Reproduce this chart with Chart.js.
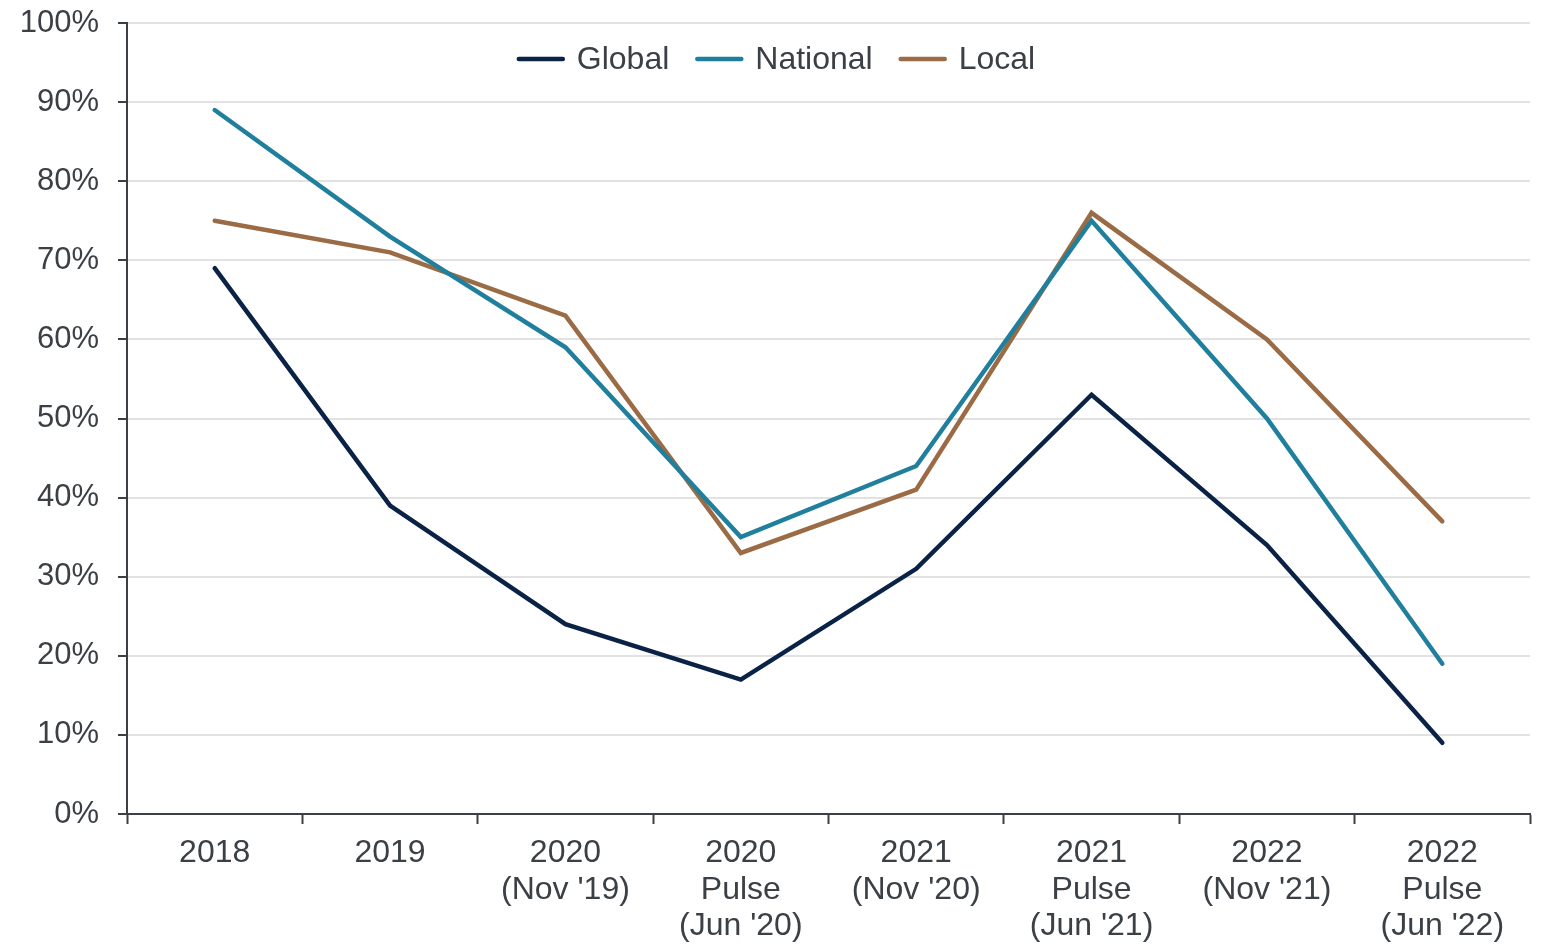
<!DOCTYPE html>
<html>
<head>
<meta charset="utf-8">
<script src="https://cdn.jsdelivr.net/npm/chart.js@4"></script>
<style>
html,body{margin:0;padding:0;background:#fff;}
#wrap{width:1546px;height:945px;position:relative;}
</style>
</head>
<body>
<div id="wrap"><canvas id="c"></canvas></div>
<script>
const categories = [
  ["2018"],
  ["2019"],
  ["2020", "(Nov '19)"],
  ["2020", "Pulse", "(Jun '20)"],
  ["2021", "(Nov '20)"],
  ["2021", "Pulse", "(Jun '21)"],
  ["2022", "(Nov '21)"],
  ["2022", "Pulse", "(Jun '22)"]
];
const globalValues   = [69, 39, 24, 17, 31, 53, 34, 9];
const nationalValues = [89, 73, 59, 35, 44, 75, 50, 19];
const localValues    = [75, 71, 63, 33, 41, 76, 60, 37];
const seriesNames = ["Global", "National", "Local"];
const yTicks = [0, 10, 20, 30, 40, 50, 60, 70, 80, 90, 100];

const colors = ["#0a2246", "#1f7f9c", "#9a6b45"];
const textColor = "#3b4046";
const axisColor = "#3b4046";
const fontFamily = "'Liberation Sans', Arial, sans-serif";
const fontSize = 32;
const yFontSize = 31;

const mk = (name, data, color) => ({
  label: name, data, borderColor: color, backgroundColor: color,
  borderWidth: 4.5, pointRadius: 0, tension: 0, fill: false,
  borderCapStyle: 'round', borderJoinStyle: 'miter'
});

// Legend drawn inside the plot, horizontally centred on the canvas
const insideLegend = {
  id: 'insideLegend',
  afterDraw(chart) {
    const ctx = chart.ctx;
    const ds = chart.data.datasets;
    ctx.save();
    ctx.font = fontSize + 'px ' + fontFamily;
    const lineLen = 46, gap = 14, itemGap = 26;
    const widths = ds.map(d => lineLen + gap + ctx.measureText(d.label).width);
    const total = widths.reduce((a, b) => a + b, 0) + itemGap * (ds.length - 1);
    let x = chart.width / 2 + 3 - total / 2;
    const y = 59;
    ctx.textBaseline = 'middle';
    ctx.textAlign = 'left';
    ds.forEach((d, i) => {
      ctx.strokeStyle = d.borderColor;
      ctx.lineWidth = 4.5;
      ctx.lineCap = 'round';
      ctx.beginPath();
      ctx.moveTo(x + 2, y);
      ctx.lineTo(x + lineLen, y);
      ctx.stroke();
      ctx.fillStyle = textColor;
      ctx.fillText(d.label, x + lineLen + gap, y + 1);
      x += widths[i] + itemGap;
    });
    ctx.restore();
  }
};

new Chart(document.getElementById('c'), {
  type: 'line',
  data: {
    labels: categories,
    datasets: [
      mk(seriesNames[0], globalValues, colors[0]),
      mk(seriesNames[1], nationalValues, colors[1]),
      mk(seriesNames[2], localValues, colors[2])
    ]
  },
  plugins: [insideLegend],
  options: {
    responsive: true,
    maintainAspectRatio: false,
    animation: false,
    layout: { padding: { left: 0, right: 16, top: 23, bottom: 0 } },
    plugins: {
      tooltip: { enabled: false },
      legend: { display: false }
    },
    scales: {
      x: {
        type: 'category',
        offset: true,
        afterFit: s => { s.height = 131; s.paddingLeft = 0; s.paddingRight = 0; },
        border: { display: true, color: axisColor, width: 2 },
        grid: { display: true, offset: true, drawOnChartArea: false, drawTicks: true, tickLength: 10, tickColor: axisColor, tickWidth: 2 },
        ticks: {
          color: textColor, maxRotation: 0, autoSkip: false, padding: 11,
          font: { family: fontFamily, size: fontSize, lineHeight: 1.14 }
        }
      },
      y: {
        min: 0, max: 100,
        afterFit: s => { s.width = 127; s.paddingTop = 0; s.paddingBottom = 0; },
        afterBuildTicks: s => { s.ticks = yTicks.map(v => ({ value: v })); },
        border: { display: true, color: axisColor, width: 2 },
        grid: { color: '#e2e2e2', lineWidth: 2, drawTicks: true, tickLength: 9, tickColor: axisColor, tickWidth: 2 },
        ticks: {
          color: textColor, padding: 19,
          font: { family: fontFamily, size: yFontSize },
          callback: v => v + '%'
        }
      }
    }
  }
});
</script>
</body>
</html>
